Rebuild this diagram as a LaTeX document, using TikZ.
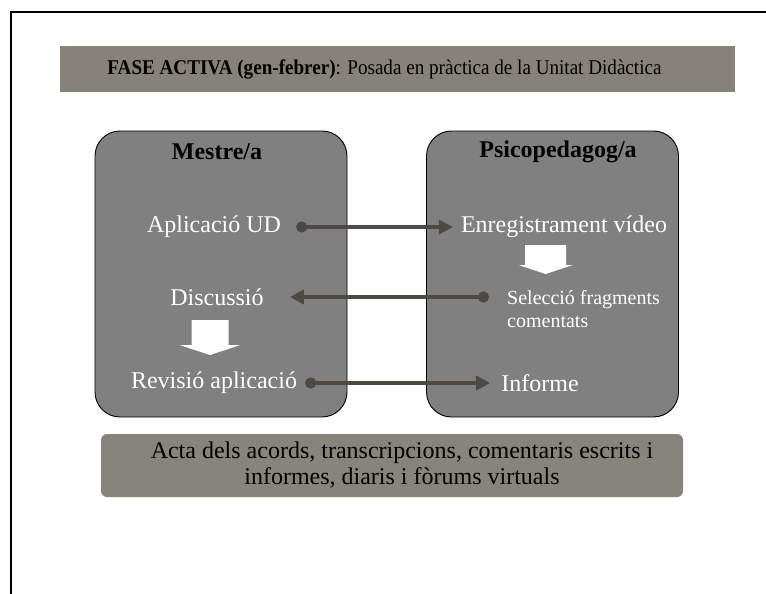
\documentclass[tikz,border=0pt]{standalone}
\usepackage{fontspec}
\setmainfont{Liberation Serif}
\newfontfamily\bandfont{Liberation Serif}[FakeStretch=0.91]
\usetikzlibrary{arrows.meta,positioning}
\definecolor{faseband}{HTML}{86827A}
\definecolor{faseactes}{HTML}{87847C}
\definecolor{fasebox}{HTML}{808080}
\definecolor{faselink}{HTML}{4D4A45}
\tikzset{
  band/.style={fill=faseband, minimum width=675pt, minimum height=46pt, inner sep=0pt},
  role/.style={draw=black, line width=0.9pt, fill=fasebox, rounded corners=25pt, minimum width=252pt, minimum height=286pt, inner sep=0pt},
  actes/.style={fill=faseactes, rounded corners=6pt, minimum width=582pt, minimum height=63pt, inner sep=0pt},
  hd/.style={font=\fontsize{24}{28}\selectfont\bfseries, text=black, inner sep=3pt},
  st/.style={font=\fontsize{24}{28}\selectfont, text=white, inner sep=3pt},
  stsm/.style={font=\fontsize{20}{23.5}\selectfont, text=white, inner sep=3pt, align=left},
  link/.style={{Circle[length=11pt]}-{Triangle[length=14pt,width=14pt]}, line width=3.5pt, color=faselink},
  frame/.style={draw=black, line width=2pt},
}
\begin{document}
\begin{tikzpicture}[x=1pt, y=-1pt]
  \useasboundingbox (0,0) rectangle (766,594);
  \draw[frame] (766,12) -- (11,12) -- (11,594);
  % banner
  \node[band] (bnr) at (397.5,69) {};
  \node[font=\bandfont\fontsize{21}{24}\selectfont] (titol) at (384.5,69) {\textbf{FASE ACTIVA (gen-febrer)}: Posada en pràctica de la Unitat Didàctica};
  % the two roles
  \node[role] (mestre) at (221,274) {};
  \node[role] (psico) at (552.5,274) {};
  \node[hd] (hmes) at (217,152) {Mestre/a};
  \node[hd] (hpsi) at (558,152) {Psicopedagog/a};
  \node[st] (aplic) at (214,227) {Aplicació UD};
  \node[st] (enreg) at (564,227) {Enregistrament vídeo};
  \node[st] (disc) at (217,297) {Discussió};
  \node[stsm, anchor=west] (selec) at (504,309) {Selecció fragments\\comentats};
  \node[st] (revis) at (214,383) {Revisió aplicació};
  \node[st] (inform) at (540,383) {Informe};
  \draw[link, shorten <=12pt, shorten >=5pt] (aplic.east) -- (enreg.west);
  \draw[link, shorten <=15pt, shorten >=23pt] (selec.west |- disc.east) -- (disc.east);
  \draw[link, shorten <=5pt, shorten >=8pt] (revis.east) -- (inform.west);
  % white block arrows
  \foreach \cx/\tp/\md/\tip/\sw/\hw in {210/320/345/355/18.5/30.5, 545.5/245/265/274/20.5/27}
    \fill[white] (\cx-\sw,\tp) -- (\cx+\sw,\tp) -- (\cx+\sw,\md) -- (\cx+\hw,\md) -- (\cx,\tip)
      -- (\cx-\hw,\md) -- (\cx-\sw,\md) -- cycle;
  % records
  \node[actes] (acta) at (392,465.5) {};
  \node[font=\fontsize{24}{26}\selectfont, align=center] (actxt) at (402,465) {Acta dels acords, transcripcions, comentaris escrits i\\informes, diaris i fòrums virtuals};
\end{tikzpicture}
\end{document}
